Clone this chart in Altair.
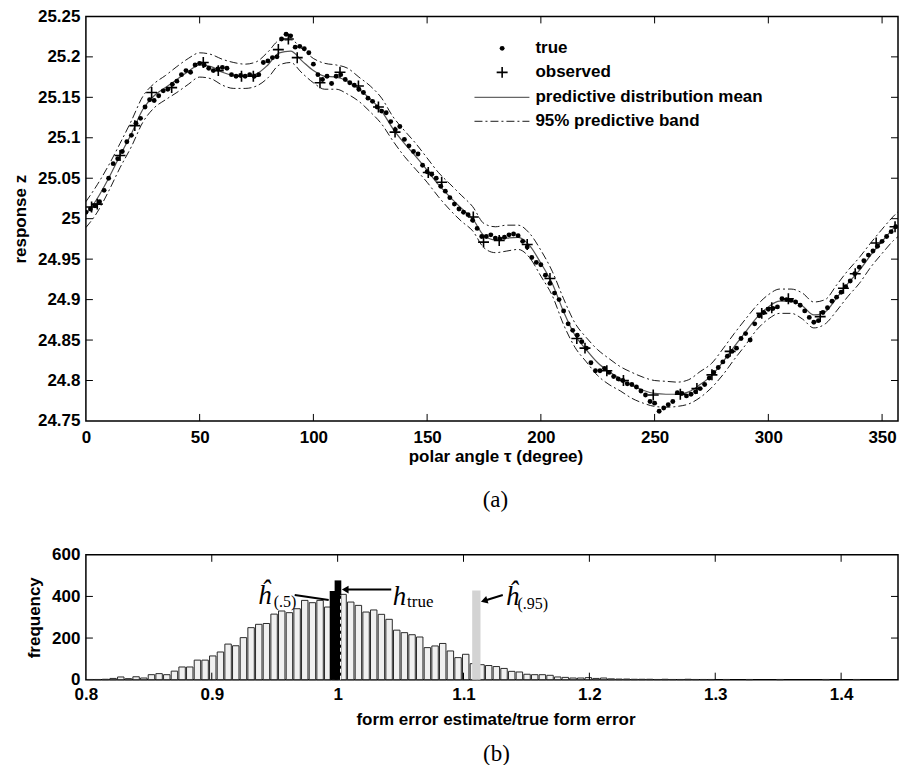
import altair as alt
import pandas as pd

# ---------------- (a) data ----------------
key_tau = [0, 5, 10, 15, 20, 25, 30, 35, 40, 45,
           50, 55, 60, 65, 70, 75, 80, 85, 90, 95,
           100, 105, 110, 115, 120, 125, 130, 135, 140, 145,
           150, 155, 160, 165, 170, 175, 180, 185, 190, 195,
           200, 205, 210, 215, 220, 225, 230, 235, 240, 245,
           250, 255, 260, 265, 270, 275, 280, 285, 290, 295,
           300, 305, 310, 315, 320, 325, 330, 335, 340, 345,
           350, 355, 360]
mean_z = [25.005, 25.025, 25.050, 25.078, 25.105, 25.135, 25.152, 25.162, 25.172, 25.182,
          25.190, 25.188, 25.181, 25.177, 25.176, 25.179, 25.190, 25.205, 25.207, 25.195,
          25.183, 25.176, 25.175, 25.170, 25.160, 25.148, 25.133, 25.111, 25.093, 25.077,
          25.060, 25.042, 25.027, 25.013, 25.000, 24.979, 24.974, 24.976, 24.977, 24.967,
          24.945, 24.920, 24.885, 24.856, 24.838, 24.822, 24.811, 24.802, 24.794, 24.788,
          24.784, 24.783, 24.783, 24.786, 24.795, 24.806, 24.823, 24.842, 24.860, 24.878,
          24.891, 24.898, 24.898, 24.892, 24.881, 24.885, 24.902, 24.920, 24.936, 24.955,
          24.972, 24.988, 25.000]
band_hw = [0.016, 0.017, 0.016, 0.015, 0.016, 0.016, 0.015, 0.015, 0.016, 0.016,
           0.015, 0.015, 0.016, 0.016, 0.015, 0.015, 0.016, 0.015, 0.014, 0.015,
           0.015, 0.016, 0.015, 0.016, 0.015, 0.016, 0.016, 0.015, 0.016, 0.016,
           0.015, 0.015, 0.016, 0.016, 0.015, 0.015, 0.016, 0.016, 0.015, 0.015,
           0.016, 0.015, 0.016, 0.015, 0.015, 0.016, 0.016, 0.015, 0.016, 0.016,
           0.016, 0.016, 0.015, 0.015, 0.016, 0.015, 0.016, 0.016, 0.016, 0.015,
           0.015, 0.015, 0.015, 0.016, 0.016, 0.015, 0.016, 0.016, 0.016, 0.015,
           0.015, 0.015, 0.016]

true_tau = list(range(0, 358, 2))
true_z = [25.008, 25.012, 25.016, 25.021, 25.035, 25.050, 25.068, 25.074, 25.083, 25.095,
          25.103, 25.118, 25.124, 25.138, 25.147, 25.146, 25.152, 25.158, 25.160, 25.166,
          25.170, 25.178, 25.183, 25.181, 25.190, 25.192, 25.190, 25.186, 25.183, 25.185,
          25.187, 25.186, 25.178, 25.176, 25.177, 25.176, 25.178, 25.176, 25.178, 25.193,
          25.195, 25.199, 25.200, 25.222, 25.228, 25.226, 25.212, 25.213, 25.210, 25.205,
          25.191, 25.178, 25.172, 25.176, 25.167, 25.176, 25.178, 25.172, 25.168, 25.165,
          25.160, 25.156, 25.149, 25.145, 25.138, 25.133, 25.131, 25.120, 25.110, 25.114,
          25.098, 25.090, 25.083, 25.080, 25.066, 25.058, 25.055, 25.050, 25.040, 25.034,
          25.026, 25.018, 25.012, 25.008, 25.005, 24.998, 24.988, 24.978, 24.978, 24.980,
          24.976, 24.975, 24.977, 24.980, 24.981, 24.979, 24.972, 24.965, 24.952, 24.946,
          24.943, 24.930, 24.920, 24.908, 24.900, 24.886, 24.870, 24.862, 24.856, 24.848,
          24.840, 24.822, 24.812, 24.812, 24.815, 24.810, 24.805, 24.802, 24.800, 24.796,
          24.795, 24.792, 24.787, 24.782, 24.774, 24.772, 24.762, 24.766, 24.770, 24.774,
          24.785, 24.784, 24.781, 24.783, 24.786, 24.790, 24.795, 24.803, 24.810, 24.816,
          24.823, 24.830, 24.836, 24.840, 24.852, 24.858, 24.850, 24.870, 24.880, 24.884,
          24.888, 24.889, 24.891, 24.901, 24.900, 24.899, 24.897, 24.893, 24.886, 24.878,
          24.872, 24.874, 24.884, 24.890, 24.898, 24.903, 24.909, 24.916, 24.923, 24.932,
          24.940, 24.948, 24.955, 24.960, 24.966, 24.972, 24.978, 24.984, 24.990]

obs_tau = [2.5, 5, 15, 21.5, 28.9, 37.7, 51.6, 58.2, 68.4, 73.6,
           84.6, 89, 92.9, 102.9, 111.7, 119.8, 128.6, 135.9, 150.5, 156.4,
           170.3, 174.8, 181.7, 194, 204, 215.8, 219.4, 229, 236.3, 249.4,
           261.3, 268.6, 275.2, 283.2, 297.1, 301.5, 308.8, 322.8, 333, 338.2,
           347.4, 355.7]
obs_z = [25.0145, 25.018, 25.078, 25.115, 25.156, 25.162, 25.193, 25.183, 25.176, 25.176,
         25.209, 25.222, 25.199, 25.168, 25.181, 25.164, 25.138, 25.107, 25.057, 25.045,
         25.002, 24.971, 24.973, 24.968, 24.926, 24.852, 24.840, 24.812, 24.800, 24.782,
         24.783, 24.790, 24.807, 24.836, 24.883, 24.890, 24.901, 24.879, 24.914, 24.932,
         24.970, 24.990]

x_ticks_a = [0, 50, 100, 150, 200, 250, 300, 350]
y_ticks_a = [24.75, 24.8, 24.85, 24.9, 24.95, 25, 25.05, 25.1, 25.15, 25.2, 25.25]
legend_labels = ["true", "observed", "predictive distribution mean", "95% predictive band"]

# ---------------- (b) data ----------------
bin_start = 0.8003
bin_width = 0.00609
counts = [1, 1, 2, 6, 13, 5, 14, 8, 24, 29,
          24, 41, 61, 61, 94, 94, 114, 133, 171, 163,
          202, 250, 266, 270, 315, 330, 322, 341, 381, 370,
          381, 349, 400, 410, 373, 357, 325, 335, 314, 290,
          238, 226, 216, 205, 154, 162, 174, 138, 106, 122,
          77, 72, 68, 63, 54, 40, 37, 26, 24, 24,
          21, 13, 11, 8, 8, 10, 6, 8, 4, 3,
          3, 2, 2, 2, 1, 2, 1, 1, 2, 1,
          1, 1, 0, 1, 0, 0, 1, 0, 0, 0,
          1, 0, 0, 0, 0, 0, 1, 0, 0, 0, 1]
marker_left = [0.9937, 0.9976, 1.1069]
marker_right = [0.9995, 1.0029, 1.1135]
marker_height = [426, 477, 429]
marker_color = ["black", "black", "#d3d3d3"]
x_ticks_b = [0.8, 0.9, 1, 1.1, 1.2, 1.3, 1.4]
y_ticks_b = [0, 200, 400, 600]

SANS = "Liberation Sans"
SERIF = "Liberation Serif"
W, HA, HB = 813, 405, 125
TICK = 7


def axis(values, lp, tp, title, titleX=None):
    d = dict(values=values, format="~f", labelFont=SANS, labelFontSize=17,
             labelFontWeight="bold", labelColor="black", labelPadding=lp,
             labelFlush=False, labelOverlap=False, ticks=False, domain=False,
             grid=False, title=title, titleFont=SANS, titleFontSize=17,
             titleFontWeight="bold", titleColor="black", titlePadding=tp)
    if titleX is not None:
        d["titleX"] = titleX
    return alt.Axis(**d)


one = pd.DataFrame({"a": [0]})

# ================= chart (a) =================
xa = alt.X("xv:Q", scale=alt.Scale(domain=[0, 357], nice=False, zero=False),
           axis=axis(x_ticks_a, 9, 3, "polar angle τ (degree)", titleX=410))
ya = alt.Y("yv:Q", scale=alt.Scale(domain=[24.75, 25.25], nice=False, zero=False),
           axis=axis(y_ticks_a, 6, 8, "response z"))

mean_df = pd.DataFrame({"xv": key_tau, "yv": mean_z})
up_df = pd.DataFrame({"xv": key_tau, "yv": [m + h for m, h in zip(mean_z, band_hw)]})
lo_df = pd.DataFrame({"xv": key_tau, "yv": [m - h for m, h in zip(mean_z, band_hw)]})
true_df = pd.DataFrame({"xv": true_tau, "yv": true_z})
obs_df = pd.DataFrame({"xv": obs_tau, "yv": obs_z})

DASHDOT = [8, 3, 2, 3]
PLUS = "M-1,0L1,0M0,-1L0,1"
DOT = 24

layers_a = [
    alt.Chart(up_df).mark_line(color="black", strokeWidth=0.9, strokeDash=DASHDOT,
                               interpolate="monotone", clip=True).encode(x=xa, y=ya),
    alt.Chart(lo_df).mark_line(color="black", strokeWidth=0.9, strokeDash=DASHDOT,
                               interpolate="monotone", clip=True).encode(x=xa, y=ya),
    alt.Chart(mean_df).mark_line(color="#555555", strokeWidth=1.2,
                                 interpolate="monotone", clip=True).encode(x=xa, y=ya),
    alt.Chart(true_df).mark_point(shape="circle", filled=True, color="black", size=DOT,
                                  opacity=1, clip=True).encode(x=xa, y=ya),
    alt.Chart(obs_df).mark_point(shape=PLUS, filled=False, color="black", strokeWidth=1.6,
                                 size=120, opacity=1, clip=True).encode(x=xa, y=ya),
]

# inner ticks (MATLAB style)
xt_a = pd.DataFrame({"xv": x_ticks_a[1:]})
yt_a = pd.DataFrame({"yv": y_ticks_a[1:-1]})
layers_a += [
    alt.Chart(xt_a).mark_rule(color="black", strokeWidth=1).encode(x=xa, y=alt.value(0), y2=alt.value(TICK)),
    alt.Chart(xt_a).mark_rule(color="black", strokeWidth=1).encode(x=xa, y=alt.value(HA - TICK), y2=alt.value(HA)),
    alt.Chart(yt_a).mark_rule(color="black", strokeWidth=1).encode(y=ya, x=alt.value(0), x2=alt.value(TICK)),
    alt.Chart(yt_a).mark_rule(color="black", strokeWidth=1).encode(y=ya, x=alt.value(W - TICK), x2=alt.value(W)),
]


def txt(s, x, y, **kw):
    opts = dict(align="left", baseline="middle", font=SANS, fontSize=17,
                fontWeight="bold", color="black")
    opts.update(kw)
    return alt.Chart(one).mark_text(text=s, **opts).encode(x=alt.value(x), y=alt.value(y))


# legend
LX_SYM, LX_TXT, LX0, LX1 = 416.7, 450, 389, 444
LY = [32, 56, 81, 105]
layers_a += [
    alt.Chart(one).mark_point(shape="circle", filled=True, color="black", size=DOT, opacity=1)
    .encode(x=alt.value(LX_SYM), y=alt.value(LY[0])),
    alt.Chart(one).mark_point(shape=PLUS, filled=False, color="black", strokeWidth=1.6, size=120, opacity=1)
    .encode(x=alt.value(LX_SYM), y=alt.value(LY[1])),
    alt.Chart(one).mark_rule(color="#666666", strokeWidth=1.2)
    .encode(x=alt.value(LX0), x2=alt.value(LX1), y=alt.value(LY[2])),
    alt.Chart(one).mark_rule(color="black", strokeWidth=0.9, strokeDash=DASHDOT)
    .encode(x=alt.value(LX0), x2=alt.value(LX1), y=alt.value(LY[3])),
]
for lab, ly in zip(legend_labels, LY):
    layers_a.append(txt(lab, LX_TXT, ly))

layers_a.append(txt("(a)", 410, 484, align="center", font=SERIF, fontSize=23, fontWeight="normal"))

top = alt.layer(*layers_a).properties(width=W, height=HA)

# ================= chart (b) =================
xb = alt.X("xv:Q", scale=alt.Scale(domain=[0.8, 1.4452], nice=False, zero=False),
           axis=axis(x_ticks_b, 7, 9, "form error estimate/true form error", titleX=410))
yb = alt.Y("yv:Q", scale=alt.Scale(domain=[0, 600], nice=False),
           axis=axis(y_ticks_b, 6, 8, "frequency"))

inset = bin_width * 0.08
hist_rows = []
for i, c in enumerate(counts):
    if c > 0:
        left = bin_start + i * bin_width
        hist_rows.append({"xv": left + inset, "xv2": left + bin_width - inset, "yv": c, "y0": 0})
hist_df = pd.DataFrame(hist_rows)

marker_df = pd.DataFrame({"xv": marker_left, "xv2": marker_right, "yv": marker_height,
                          "y0": [0, 0, 0], "c": marker_color})

layers_b = [
    alt.Chart(hist_df).mark_rect(fill="#f0f0f0", stroke="#2a2a2a", strokeWidth=1)
    .encode(x=xb, x2="xv2:Q", y=yb, y2="y0:Q"),
    alt.Chart(marker_df).mark_rect(strokeWidth=0)
    .encode(x=xb, x2="xv2:Q", y=yb, y2="y0:Q", color=alt.Color("c:N", scale=None)),
    alt.Chart(pd.DataFrame({"xv": [1.0023], "yv": [0], "yv2": [405]}))
    .mark_rule(color="white", strokeWidth=1, strokeDash=[4, 3])
    .encode(x=xb, y=yb, y2="yv2:Q"),
]

# annotation arrows
arrow_df = pd.DataFrame({"xv": [0.9659, 1.0426, 1.1312], "yv": [406.6, 433, 406.6],
                         "xv2": [0.9929, 1.0065, 1.1165], "yv2": [382.6, 433, 379]})
layers_b.append(alt.Chart(arrow_df).mark_rule(color="black", strokeWidth=2)
                .encode(x=xb, y=yb, x2="xv2:Q", y2="yv2:Q"))
layers_b.append(alt.Chart(pd.DataFrame({"xv": [1.0060], "yv": [433]}))
                .mark_point(shape="triangle-left", filled=True, color="black", size=60, opacity=1)
                .encode(x=xb, y=yb))
layers_b.append(alt.Chart(pd.DataFrame({"xv": [1.1164], "yv": [379.7]}))
                .mark_point(shape="triangle-left", filled=True, color="black", size=60, opacity=1, angle=343)
                .encode(x=xb, y=yb))


def ann(s, xv, yv, size, italic):
    opts = dict(text=s, align="left", baseline="alphabetic", font=SERIF, fontSize=size, color="black")
    if italic:
        opts["fontStyle"] = "italic"
    return alt.Chart(pd.DataFrame({"xv": [xv], "yv": [yv]})).mark_text(**opts).encode(x=xb, y=yb)


layers_b += [
    ann("ĥ", 0.9365, 365, 27, True),
    ann("(.5)", 0.9492, 350, 16, False),
    ann("h", 1.0437, 360, 27, True),
    ann("true", 1.0552, 350, 17, False),
    ann("ĥ", 1.1333, 360, 27, True),
    ann("(.95)", 1.1429, 341, 16, False),
]

xt_b = pd.DataFrame({"xv": x_ticks_b[1:]})
yt_b = pd.DataFrame({"yv": y_ticks_b[1:-1]})
layers_b += [
    alt.Chart(xt_b).mark_rule(color="black", strokeWidth=1).encode(x=xb, y=alt.value(0), y2=alt.value(TICK)),
    alt.Chart(xt_b).mark_rule(color="black", strokeWidth=1).encode(x=xb, y=alt.value(HB - TICK), y2=alt.value(HB)),
    alt.Chart(yt_b).mark_rule(color="black", strokeWidth=1).encode(y=yb, x=alt.value(0), x2=alt.value(TICK)),
    alt.Chart(yt_b).mark_rule(color="black", strokeWidth=1).encode(y=yb, x=alt.value(W - TICK), x2=alt.value(W)),
]
layers_b.append(txt("(b)", 411, 199, align="center", font=SERIF, fontSize=23, fontWeight="normal"))

bottom = alt.layer(*layers_b).properties(width=W, height=HB)

chart = (
    alt.vconcat(top, bottom, spacing=32)
    .properties(padding={"left": 10, "top": 6, "right": 2, "bottom": 2}, background="white")
    .configure_view(stroke="black", strokeWidth=1.5)
)

chart.save("out.html", embed_options={"renderer": "svg", "actions": False})
